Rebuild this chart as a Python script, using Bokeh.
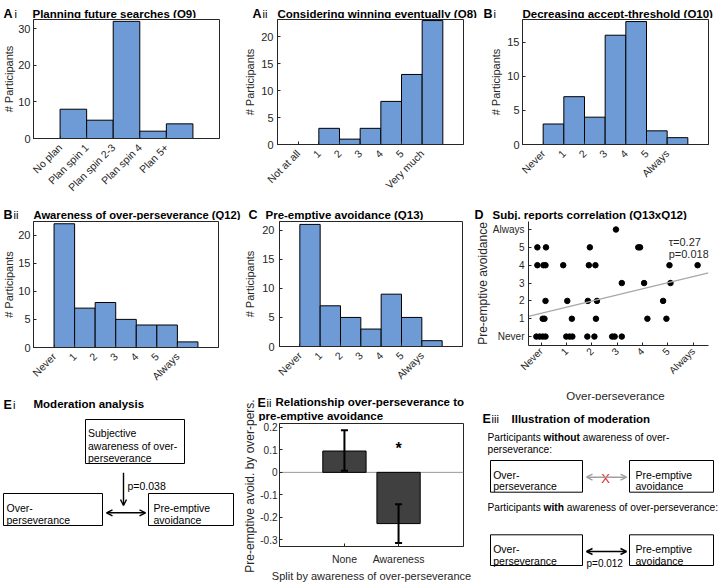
import math
from bokeh.plotting import figure
from bokeh.layouts import row, column
from bokeh.models import (Range1d, FixedTicker, ColumnDataSource, Arrow, OpenHead)
from bokeh.core.properties import value
from bokeh.embed import file_html
from bokeh.resources import INLINE

FONT = "Liberation Sans"
BLUE = "#6e9bd5"
AXC = "#262626"
TXC = "#262626"

# ---------------- data ----------------
q9_labels = ["No plan", "Plan spin 1", "Plan spin 2-3", "Plan spin 4", "Plan 5+"]
q9_counts = [8, 5, 32, 2, 4]
q8_labels = ["Not at all", "1", "2", "3", "4", "5", "Very much"]
q8_counts = [0, 3, 1, 3, 8, 13, 23]
scale_labels = ["Never", "1", "2", "3", "4", "5", "Always"]
q10_counts = [3, 7, 4, 16, 18, 2, 1]
q12_counts = [22, 7, 8, 5, 4, 4, 1]
q13_counts = [21, 7, 5, 3, 9, 5, 1]

d_x = [2.95,
       -0.15, 0.19, 1.92, 3.83, 3.9,
       -0.15, 0.09, 0.17, 0.87, 1.88, 2.14, 5.06, 6.17,
       3.18, 4.06, 5.1,
       0.17, 1.03, 1.84, 2.2, 4.81,
       0.06, 0.13, 1.21, 2.16, 4.19, 4.94,
       -0.19, -0.06, 0.06, 0.17, 0.99, 1.12, 1.23, 1.82, 2.1, 2.8, 2.9, 3.18]
d_y = [6,
       5, 5, 5, 5, 5,
       4, 4, 4, 4, 4, 4, 4, 4,
       3, 3, 3,
       2, 2, 2, 2, 2,
       1, 1, 1, 1, 1, 1,
       0, 0, 0, 0, 0, 0, 0, 0, 0, 0, 0, 0]
fit_intercept = 1.305
fit_slope = 0.344
tau_text = "\u03c4=0.27"
p_text = "p=0.018"

split_labels = ["None", "Awareness"]
split_means = [0.095, -0.228]
split_lower = [0.007, -0.314]
split_upper = [0.187, -0.142]
eii_ticks = [-0.3, -0.2, -0.1, 0, 0.1, 0.2]
eii_tick_labels = ["-0.3", "-0.2", "-0.1", "0", "0.1", "0.2"]


# ---------------- helpers ----------------
def base_fig(W, H, frame, x_range, y_range):
    fl, ft, fr, fb = frame
    p = figure(width=W, height=H, output_backend="svg", toolbar_location=None,
               x_range=x_range, y_range=y_range,
               min_border_left=fl, min_border_top=ft,
               min_border_right=W - fr, min_border_bottom=H - fb)
    p.xgrid.visible = False
    p.ygrid.visible = False
    p.outline_line_color = AXC
    p.outline_line_width = 1
    p.background_fill_color = "white"
    p.border_fill_color = "white"
    for ax in (p.xaxis[0], p.yaxis[0]):
        ax.axis_line_color = AXC
        ax.axis_line_width = 1
        ax.major_tick_line_color = AXC
        ax.major_tick_in = 3
        ax.major_tick_out = 0
        ax.minor_tick_line_color = None
        ax.major_label_text_font = FONT
        ax.major_label_text_font_size = "11px"
        ax.major_label_text_color = TXC
        ax.major_label_standoff = 3
        ax.axis_label_text_font = FONT
        ax.axis_label_text_font_style = "normal"
        ax.axis_label_text_color = TXC
    return p


def blank_fig(W, H):
    """Axis-less canvas whose data units are pixels (y downwards)."""
    p = figure(width=W, height=H, output_backend="svg", toolbar_location=None,
               x_range=Range1d(0, W), y_range=Range1d(H, 0),
               x_axis_type=None, y_axis_type=None,
               min_border=0, min_border_left=0, min_border_right=0,
               min_border_top=0, min_border_bottom=0)
    p.outline_line_color = None
    p.background_fill_color = "white"
    p.border_fill_color = "white"
    return p


def dtext(p, x, y, text, size=10.5, bold=False, color="black", align="left",
          baseline="alphabetic", angle=0.0):
    p.text(x=[x], y=[y], text=[text], text_font=value(FONT),
           text_font_size=f"{size}px",
           text_font_style="bold" if bold else "normal",
           text_color=color, text_align=align, text_baseline=baseline, angle=angle)


def heads_strip(W, H, heads):
    s = blank_fig(W, H)
    for (x, y, text, size, bold) in heads:
        dtext(s, x, y, text, size, bold=bold)
    return s


def dbox(p, l, r, t, b):
    p.quad(left=[l], right=[r], top=[t], bottom=[b], fill_color=None,
           line_color="black", line_width=1)


def darrow(p, x0, y0, x1, y1, color="black", both=True, width=1.4):
    p.add_layout(Arrow(x_start=x0, y_start=y0, x_end=x1, y_end=y1,
                       line_color=color, line_width=width,
                       end=OpenHead(size=6, line_color=color, line_width=width),
                       start=OpenHead(size=6, line_color=color, line_width=width) if both else None))


def hist_panel(W, H, frame, cats, counts, ymax, yticks, y_standoff, y_label_standoff):
    n = len(counts)
    p = base_fig(W, H, frame, Range1d(-1, n + 1), Range1d(0, ymax))
    left = list(range(n))
    src = ColumnDataSource(dict(left=left, right=[v + 1 for v in left], top=counts))
    p.quad(left="left", right="right", bottom=0, top="top", source=src,
           fill_color=BLUE, line_color="black", line_width=1)
    p.xaxis.ticker = FixedTicker(ticks=left)
    p.xaxis.major_label_overrides = {v: c for v, c in zip(left, cats)}
    p.xaxis.major_label_orientation = math.pi / 4
    p.xaxis.major_label_text_font_size = "10.5px"
    p.xaxis.major_label_standoff = 7
    p.yaxis.ticker = FixedTicker(ticks=yticks)
    p.yaxis.major_label_standoff = y_standoff
    p.yaxis.axis_label = "# Participants"
    p.yaxis.axis_label_text_font_size = "11px"
    p.yaxis.axis_label_standoff = y_label_standoff
    return p


def wr(f):
    return row(f)


def wc(f):
    return column(f)


LET = 12.5  # panel letter size

# ---------------- row 1 (image y 0..200) ----------------
s_ai = heads_strip(240, 18, [(3, 13.3, "A", LET, True), (14, 13.3, "i", 11, False),
                             (32, 13, "Planning future searches (Q9)", 11.5, True)])
p_ai = hist_panel(240, 182, (32, 1, 219, 126), q9_labels, q9_counts, 32.5, [0, 10, 20, 30], 3, 0)

s_aii = heads_strip(240, 18, [(12, 13.3, "A", LET, True), (22, 13.3, "ii", 11, False),
                              (37, 13, "Considering winning eventually (Q8)", 11.5, True)])
p_aii = hist_panel(240, 182, (37, 1, 223, 126), q8_labels, q8_counts, 23.2, [0, 5, 10, 15, 20], 4, 2)

s_bi = heads_strip(246, 18, [(3, 13.3, "B", LET, True), (13, 13.3, "i", 11, False),
                             (42, 13, "Decreasing accept-threshold (Q10)", 11.5, True)])
p_bi = hist_panel(246, 182, (42, 1, 228, 126), scale_labels, q10_counts, 18.3, [0, 5, 10, 15], 3, 2)

row1 = row(column(wr(s_ai), wr(p_ai)), column(wr(s_aii), wr(p_aii)), column(wr(s_bi), wr(p_bi)))

# ---------------- column 1, rows 2-3 (x 0..241) ----------------
s_bii = heads_strip(241, 20, [(3, 14.3, "B", LET, True), (13, 14.3, "ii", 11, False),
                              (33, 14, "Awareness of over-perseverance (Q12)", 11.2, True)])
p_bii = hist_panel(241, 170, (32, 1, 218, 127), scale_labels, q12_counts, 22.4, [0, 5, 10, 15, 20], 3, 0)

# Ei diagram: x = image x, y = image y - 390
p_ei = blank_fig(241, 194)
dtext(p_ei, 3, 14, "E", LET, bold=True)
dtext(p_ei, 12.5, 14, "i", 11)
dtext(p_ei, 33, 13.5, "Moderation analysis", 11.5, bold=True)
dbox(p_ei, 85, 184, 29, 73)
for yy, t in zip([42.3, 55, 67.3], ["Subjective", "awareness of over-", "perseverance"]):
    dtext(p_ei, 87.5, yy, t)
darrow(p_ei, 123, 82.3, 123, 115, both=False)
dtext(p_ei, 127, 95, "p=0.038")
dbox(p_ei, 3, 102, 103, 135)
dtext(p_ei, 6, 117.7, "Over-")
dtext(p_ei, 6, 129.3, "perseverance")
darrow(p_ei, 106, 122.3, 145, 122.3)
dbox(p_ei, 148, 233, 103, 135)
dtext(p_ei, 153, 117.7, "Pre-emptive")
dtext(p_ei, 153, 129.3, "avoidance")

col1 = column(wr(s_bii), wr(p_bii), wr(p_ei))

# ---------------- column 2, rows 2-3 (x 241..472) ----------------
s_c = heads_strip(231, 20, [(7, 14.3, "C", LET, True),
                            (24, 14, "Pre-emptive avoidance (Q13)", 11.5, True)])
p_c = hist_panel(231, 168, (36, 1, 221, 127), scale_labels, q13_counts, 21.5, [0, 5, 10, 15, 20], 5, 3)

# Eii: y-label strip (x 241..255), title strip + bar chart (x 255..472), y from 388
s_eii_ylab = blank_fig(16, 196)
dtext(s_eii_ylab, 8, 97.5, "Pre-emptive avoid. by over-pers.", 12, color=TXC,
      align="center", baseline="middle", angle=math.pi / 2)
s_eii = heads_strip(215, 33, [(0, 14, "E", LET, True), (9, 14, "ii", 11, False),
                              (18, 13, "Relationship over-perseverance to", 11.5, True),
                              (1, 27, "pre-emptive avoidance", 11.5, True)])
p_eii = base_fig(215, 163, (20, 2, 206, 127), Range1d(-0.2, 3.2), Range1d(-0.33, 0.2175))
split_x = [i + 1 for i in range(len(split_labels))]
p_eii.segment(x0=[p_eii.x_range.start], x1=[p_eii.x_range.end], y0=[0], y1=[0],
              line_color="#9a9a9a", line_width=1)
p_eii.vbar(x=split_x, top=split_means, bottom=0, width=0.8, fill_color="#404040",
           line_color="black", line_width=1)
cap = 0.065
p_eii.segment(x0=split_x, x1=split_x, y0=split_lower, y1=split_upper,
              line_color="black", line_width=2)
p_eii.segment(x0=[x - cap for x in split_x], x1=[x + cap for x in split_x],
              y0=split_upper, y1=split_upper, line_color="black", line_width=2)
p_eii.segment(x0=[x - cap for x in split_x], x1=[x + cap for x in split_x],
              y0=split_lower, y1=split_lower, line_color="black", line_width=2)
p_eii.text(x=[split_x[1]], y=[0.105], text=["*"], text_font=value(FONT), text_font_size="16px",
           text_font_style="bold", text_align="center", text_baseline="middle")
p_eii.xaxis.ticker = FixedTicker(ticks=split_x)
p_eii.xaxis.major_label_overrides = dict(zip(split_x, split_labels))
p_eii.xaxis.major_label_text_font_size = "10.5px"
p_eii.xaxis.major_label_standoff = 6
p_eii.xaxis.axis_label = "Split by awareness of over-perseverance"
p_eii.xaxis.axis_label_text_font_size = "11px"
p_eii.xaxis.axis_label_standoff = 2
p_eii.yaxis.ticker = FixedTicker(ticks=eii_ticks)
p_eii.yaxis.major_label_overrides = dict(zip(eii_ticks, eii_tick_labels))
p_eii.yaxis.major_label_text_font_size = "10px"
p_eii.yaxis.major_label_standoff = 2

eii_block = row(wc(s_eii_ylab), column(wr(s_eii), wr(p_eii)))
col2 = column(wr(s_c), wr(p_c), eii_block)

# ---------------- column 3, rows 2-3 (x 472..726) ----------------
s_d = heads_strip(254, 20, [(2, 14.3, "D", LET, True),
                            (20, 14, "Subj. reports correlation (Q13xQ12)", 11.5, True)])
p_d = base_fig(254, 162, (50, 1, 236, 127), Range1d(-0.5, 6.6), Range1d(-0.5, 6.45))
p_d.outline_line_color = None
d_ticks = list(range(len(scale_labels)))
for ax in (p_d.xaxis[0], p_d.yaxis[0]):
    ax.ticker = FixedTicker(ticks=d_ticks)
    ax.major_label_overrides = dict(zip(d_ticks, scale_labels))
    ax.major_label_text_font_size = "10px"
p_d.xaxis.major_label_orientation = math.pi / 4
p_d.xaxis.major_label_standoff = 4
p_d.yaxis.major_label_standoff = 4
p_d.yaxis.axis_label = "Pre-emptive avoidance"
p_d.yaxis.axis_label_text_font_size = "12px"
p_d.yaxis.axis_label_standoff = 0
p_d.scatter(d_x, d_y, size=5.5, color="black")
fit_xs = [p_d.x_range.start, p_d.x_range.end]
p_d.line(fit_xs, [fit_intercept + fit_slope * x for x in fit_xs], line_color="#a8a8a8", line_width=1.3)
p_d.text(x=[5.03, 5.03], y=[5.3, 4.63], text=[tau_text, p_text], text_font=value(FONT),
         text_font_size="11px", text_baseline="middle", text_color=TXC)

s_dx = blank_fig(254, 18)
dtext(s_dx, 143, 13, "Over-perseverance", 11.5, color=TXC, align="center")

# Eiii diagram: x = image x - 472, y = image y - 400
p_eiii = blank_fig(254, 184)
dtext(p_eiii, 10, 18, "E", LET, bold=True)
dtext(p_eiii, 19, 18, "iii", 11)
dtext(p_eiii, 39, 18, "Illustration of moderation", 11.5, bold=True)
FS = 10.2
dtext(p_eiii, 15, 37, "Participants", FS)
dtext(p_eiii, 15 + 5.502 * FS, 37, "without", FS, bold=True)
dtext(p_eiii, 15 + (5.502 + 3.555 + 0.278) * FS, 37, "awareness of over-", FS)
dtext(p_eiii, 15, 49, "perseverance:", FS)
dbox(p_eiii, 18, 110, 60, 91.7)
dtext(p_eiii, 20.7, 74, "Over-")
dtext(p_eiii, 20.7, 85.7, "perseverance")
darrow(p_eiii, 114, 76.7, 154, 76.7, color="#a0a0a0")
dtext(p_eiii, 133, 77.5, "X", 13, color="#e8211e", align="center", baseline="middle")
dbox(p_eiii, 157, 241, 60, 91.7)
dtext(p_eiii, 163, 74, "Pre-emptive")
dtext(p_eiii, 163, 85.7, "avoidance")
dtext(p_eiii, 15, 106.7, "Participants", FS)
dtext(p_eiii, 15 + 5.502 * FS, 106.7, "with", FS, bold=True)
dtext(p_eiii, 15 + (5.502 + 2.0 + 0.278) * FS, 106.7, "awareness of over-perseverance:", FS)
dbox(p_eiii, 18, 110, 134.3, 165)
dtext(p_eiii, 20.7, 148.3, "Over-")
dtext(p_eiii, 20.7, 160, "perseverance")
darrow(p_eiii, 114, 151, 154, 151)
dtext(p_eiii, 114, 163.3, "p=0.012", 10)
dbox(p_eiii, 157, 241, 134.3, 165)
dtext(p_eiii, 163, 148.3, "Pre-emptive")
dtext(p_eiii, 163, 160, "avoidance")

col3 = column(wr(s_d), wr(p_d), wr(s_dx), wr(p_eiii))

layout = column(row1, row(col1, col2, col3))

open("out.html", "w").write(file_html(layout, INLINE))
